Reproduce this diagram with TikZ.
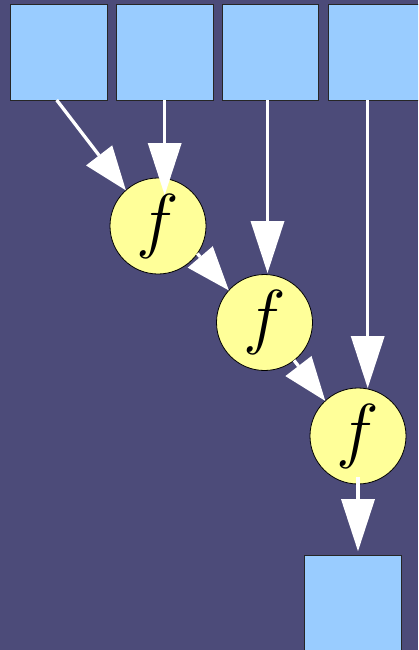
\documentclass[tikz,border=0pt]{standalone}
\usepackage{graphicx}
\usetikzlibrary{arrows.meta}
\definecolor{bgc}{RGB}{76,75,121}
\definecolor{boxc}{RGB}{153,204,255}
\definecolor{circc}{RGB}{255,255,153}
\newcommand{\bigf}{\scalebox{2.9}{$f$}}
\tikzset{
  inbox/.style={draw=black!85, line width=0.8pt, fill=boxc, minimum width=96.5pt, minimum height=95.7pt, inner sep=0pt, outer sep=0pt},
  fcirc/.style={circle, draw=black, line width=0.8pt, fill=circc, minimum size=96pt, inner sep=0pt, outer sep=0pt, font=\Huge},
  varr/.style={draw=white, line width=3.3pt, -{Triangle[length=52pt,width=34pt,line width=0pt]}},
  darr/.style={draw=white, line width=3.3pt, -{Triangle[length=44pt,width=33pt,line width=0pt]}}
}
\begin{document}
\begin{tikzpicture}[x=1pt,y=-1pt]
\useasboundingbox (0,0) rectangle (418,650);
\clip (0,0) rectangle (418,650);
\fill[bgc] (0,0) rectangle (418,650);
% input boxes
\node[inbox] (b1) at (58.7,52.2) {};
\node[inbox] (b2) at (164.7,52.2) {};
\node[inbox] (b3) at (270.3,52.2) {};
\node[inbox] (b4) at (376.3,52.2) {};
% output box
\node[inbox] (b5) at (352.9,603) {};
% function circles
\node[fcirc] (c1) at (158,226) {\bigf};
\node[fcirc] (c2) at (264.5,322.5) {\bigf};
\node[fcirc] (c3) at (358,436) {\bigf};
% start points of vertical connectors
\coordinate (s3) at ([xshift=-2.8pt]b3.south);
\coordinate (s4) at ([xshift=-8.6pt]b4.south);
% connectors
\draw[darr] ([xshift=-2pt]b1.south) -- (c1.132);
\draw[varr, shorten >=31pt] (b2.south) -- (b2.south |- c1.center);
\draw[varr, shorten >=1.5pt] (s3) -- (s3 |- c2.north);
\draw[varr] (s4) -- (s4 |- c3.north);
\draw[darr] (c1.-35) -- (c2.138);
\draw[darr] (c2.-52) -- (c3.133);
\draw[varr, shorten >=4pt] ([yshift=7pt]c3.south) -- (c3.south |- b5.north);
\end{tikzpicture}
\end{document}
